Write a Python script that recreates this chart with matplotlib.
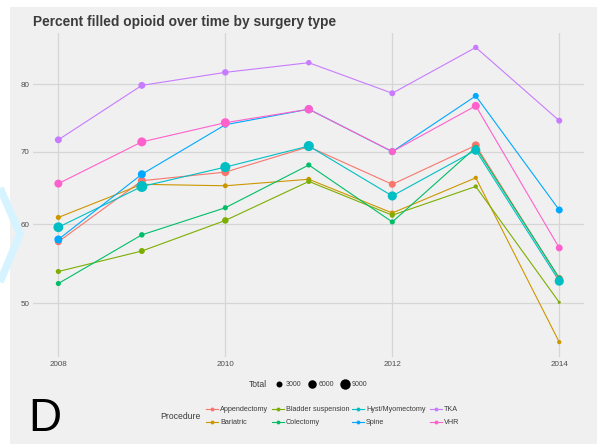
import numpy as np
import matplotlib.pyplot as plt
from matplotlib.lines import Line2D
from matplotlib.patches import Rectangle

# Percent of patients filling an opioid prescription, by surgery type and year
years = [2008, 2009, 2010, 2011, 2012, 2013, 2014]
procedures = ["Appendectomy", "Bariatric", "Bladder suspension", "Colectomy",
              "Hyst/Myomectomy", "Spine", "TKA", "VHR"]
colors = ["#F8766D", "#CD9600", "#7CAE00", "#00BE67",
          "#00BFC4", "#00A9FF", "#C77CFF", "#FF61CC"]

pct_appendectomy = [57.7, 65.9, 67.1, 70.7, 65.4, 70.9, 53.0]
pct_bariatric = [60.9, 65.4, 65.2, 66.1, 61.5, 66.3, 45.4]
pct_bladder = [53.9, 56.5, 60.5, 65.8, 61.2, 65.1, 50.1]
pct_colectomy = [52.4, 58.6, 62.2, 68.1, 60.3, 70.6, 53.1]
pct_hyst = [59.6, 65.1, 67.8, 70.8, 63.8, 70.2, 52.7]
pct_spine = [58.0, 66.8, 73.9, 76.2, 70.0, 78.2, 61.9]
pct_tka = [71.7, 79.8, 81.8, 83.3, 78.6, 85.7, 74.5]
pct_vhr = [65.5, 71.4, 74.2, 76.2, 70.0, 76.7, 56.9]

# number of patients behind each point
tot_appendectomy = [4000, 5300, 5300, 5000, 4000, 5300, 4500]
tot_bariatric = [2200, 2200, 2000, 2000, 2000, 1500, 1500]
tot_bladder = [2200, 3000, 3500, 2200, 2200, 1500, 800]
tot_colectomy = [2200, 2500, 2200, 2200, 2200, 2200, 2200]
tot_hyst = [8000, 10000, 8500, 8500, 7000, 7000, 7000]
tot_spine = [5300, 5300, 3000, 5300, 4000, 3000, 4000]
tot_tka = [4000, 4000, 3500, 2500, 3000, 2500, 3000]
tot_vhr = [5300, 6750, 6750, 6000, 4000, 5300, 4000]

pct = [pct_appendectomy, pct_bariatric, pct_bladder, pct_colectomy,
       pct_hyst, pct_spine, pct_tka, pct_vhr]
tot = [tot_appendectomy, tot_bariatric, tot_bladder, tot_colectomy,
       tot_hyst, tot_spine, tot_tka, tot_vhr]

legend_totals = [3000, 6000, 9000]


def size_of(total):
    return 18.7 * np.asarray(total) / 3000.0


W, H = 597, 444
bg = "#F0F0F0"
fig = plt.figure(figsize=(W / 100, H / 100), dpi=100)
fig.patch.set_facecolor("white")
fig.patches.append(Rectangle((10 / W, 0), 1, 1 - 7 / H, transform=fig.transFigure,
                             facecolor=bg, edgecolor="none", zorder=-2))

# faint cyan stroke at the left edge
fig.add_artist(Line2D([0 / W, 20 / W, 0 / W], [1 - 188 / H, 1 - 234 / H, 1 - 282 / H],
                      transform=fig.transFigure, color="#D6F4FF", lw=5.5,
                      solid_capstyle="butt", solid_joinstyle="miter", zorder=-1))

ax = fig.add_axes([33.3 / W, 1 - 357 / H, (584.3 - 33.3) / W, (357 - 33) / H])
ax.set_facecolor(bg)
ax.set_yscale("function", functions=(lambda v: np.sqrt(np.clip(v, 0, None)), np.square))
ax.set_xlim(2007.7, 2014.3)
ax.set_ylim(43.7, 88.0)
ax.set_xticks([2008, 2010, 2012, 2014])
ax.set_yticks([50, 60, 70, 80])
ax.set_xticklabels(["2008", "2010", "2012", "2014"])
ax.set_yticklabels(["50", "60", "70", "80"])
ax.minorticks_off()
ax.grid(True, color="#D6D6D6", lw=0.9)
ax.set_axisbelow(True)
for sp in ax.spines.values():
    sp.set_visible(False)
ax.tick_params(length=0, labelsize=5.8, labelcolor="#4D4D4D", pad=3)
for lab in ax.get_xticklabels() + ax.get_yticklabels():
    lab.set_family("Liberation Sans")

for vals, col in zip(pct, colors):
    ax.plot(years, vals, color=col, lw=0.8, zorder=2)
for vals, sizes, col in zip(pct, tot, colors):
    ax.scatter(years, vals, s=size_of(sizes), color=col, linewidths=0, zorder=3)

fig.text(33 / W, 1 - 22 / H, "Percent filled opioid over time by surgery type",
         fontsize=9.9, fontweight="bold", color="#3C3C3C", family="Liberation Sans",
         ha="left", va="center")

# size legend
fig.text(258 / W, 1 - 384 / H, "Total", fontsize=6.2, color="#3C3C3C",
         family="Liberation Sans", ha="center", va="center")
for tv, xp in zip(legend_totals, [279, 312, 345]):
    ax.scatter([xp / W], [1 - 384 / H], s=size_of(tv), color="black", linewidths=0,
               transform=fig.transFigure, clip_on=False)
    fig.text((xp + 7) / W, 1 - 384 / H, str(tv), fontsize=5.0, color="#3C3C3C",
             family="Liberation Sans", ha="left", va="center")

# procedure legend
fig.text(180 / W, 1 - 416 / H, "Procedure", fontsize=6.2, color="#3C3C3C",
         family="Liberation Sans", ha="center", va="center")
col_x = [212, 278, 358, 436]
row_y = [409, 422]
for i, (name, col) in enumerate(zip(procedures, colors)):
    cx = col_x[i // 2]
    cy = row_y[i % 2]
    fig.add_artist(Line2D([(cx - 6) / W, (cx + 6) / W], [1 - cy / H, 1 - cy / H],
                          transform=fig.transFigure, color=col, lw=0.8))
    fig.add_artist(Line2D([cx / W], [1 - cy / H], transform=fig.transFigure,
                          marker="o", ms=2.8, color=col, markeredgewidth=0))
    fig.text((cx + 8) / W, 1 - cy / H, name, fontsize=5.2, color="#3C3C3C",
             family="Liberation Sans", ha="left", va="center")

fig.text(28 / W, 1 - 419 / H, "D", fontsize=33, color="black",
         family="Liberation Sans", ha="left", va="center")

fig.savefig("out.png", dpi=100, facecolor=fig.get_facecolor())
